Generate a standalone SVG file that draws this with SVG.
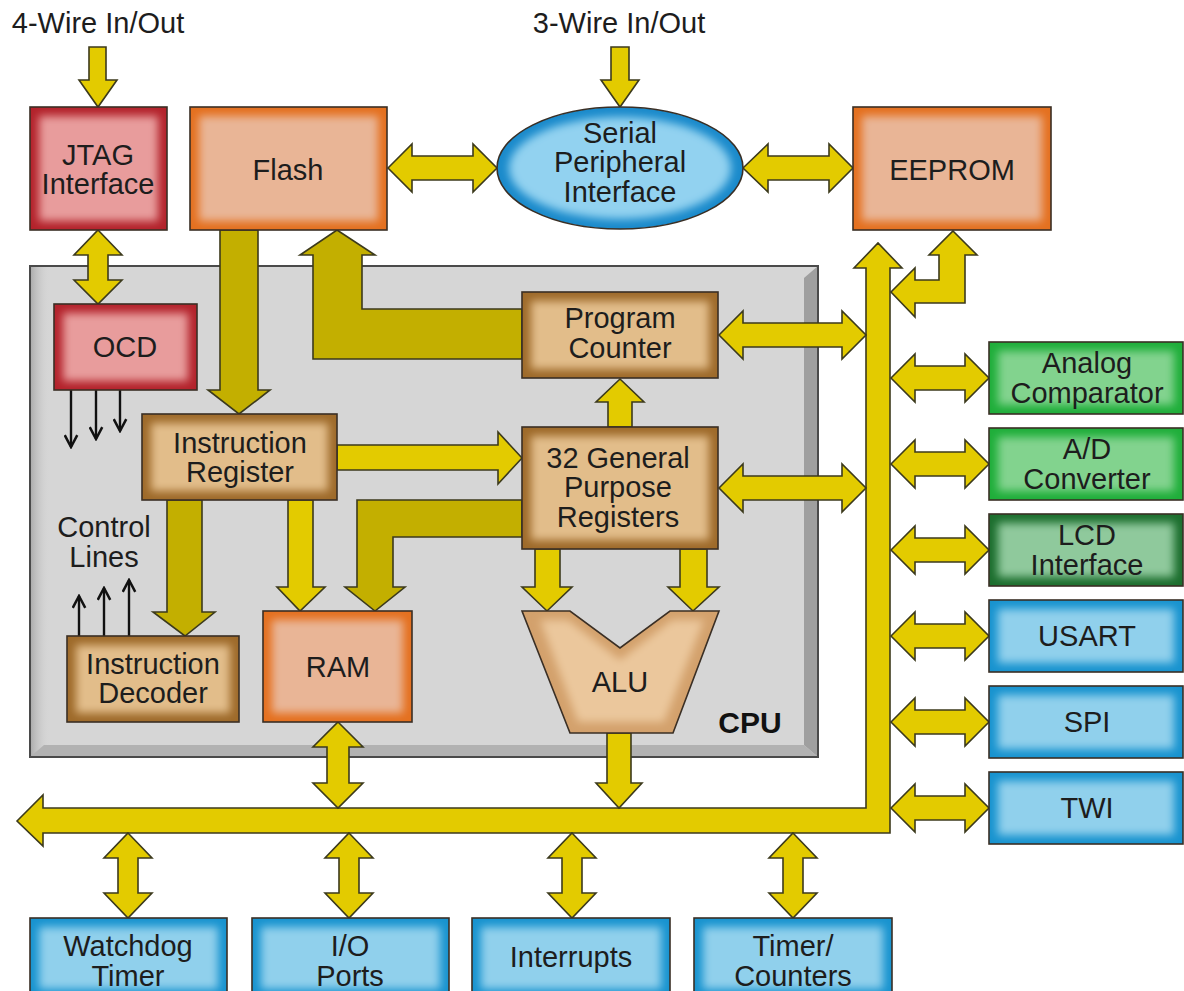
<svg xmlns="http://www.w3.org/2000/svg" width="1184" height="991" viewBox="0 0 1184 991">
<defs>
<style>
.t{font-family:"Liberation Sans",Arial,Helvetica,sans-serif;font-size:29px;fill:#1d1d1d;text-anchor:middle}
.b{font-weight:bold;font-size:30px;fill:#111}
.y{fill:#E3CB00;stroke:#3c3a1c;stroke-width:1.6;stroke-linejoin:miter}
.yd{fill:#C3AF00;stroke:#3c3a1c;stroke-width:1.6;stroke-linejoin:miter}
.bd{fill:none;stroke:#3a2f25;stroke-width:1.6}
.ln{fill:none;stroke:#111;stroke-width:2.4}
.redE{fill:#B3222B}.redC{fill:#E89C9C}
.orE{fill:#E4701F}.orC{fill:#E9B596}
.brE{fill:#9E6A2A}.brC{fill:#E2BD8A}
.blE{fill:#1893CF}.blC{fill:#90D0EC}
.grE{fill:#1FAE3A}.grC{fill:#82D38E}
.dgE{fill:#1C6E2E}.dgC{fill:#8FC99C}
</style>
<filter id="soft" x="-20%" y="-20%" width="140%" height="140%"><feGaussianBlur stdDeviation="4.5"/></filter>
<linearGradient id="cpuL" x1="0" y1="0" x2="1" y2="0"><stop offset="0" stop-color="#A9A9A9"/><stop offset="1" stop-color="#D6D6D6" stop-opacity="0"/></linearGradient>
<marker id="ah" viewBox="0 0 12 12" refX="10.5" refY="6" markerWidth="15" markerHeight="15" markerUnits="userSpaceOnUse" orient="auto"><path d="M1,1 L10.5,6 L1,11" fill="none" stroke="#111" stroke-width="2"/></marker>
</defs>
<rect width="1184" height="991" fill="#ffffff"/>

<!-- CPU container -->
<g id="cpu">
<rect x="30" y="266" width="788" height="491" fill="#D6D6D6"/>
<rect x="30" y="266" width="20" height="491" fill="url(#cpuL)"/>
<polygon points="804,278 818,266 818,757 804,745" fill="#9F9F9F"/>
<polygon points="30,757 818,757 804,745 44,745" fill="#B2B2B2"/>
<rect x="30" y="266" width="788" height="491" fill="none" stroke="#4a4a4a" stroke-width="2"/>
<text class="t b" x="750" y="733">CPU</text>
</g>

<!-- connectors -->
<g id="connectors">
<polygon class="y" points="89,47 106,47 106,80 117,80 98,107 79,80 89,80"/>
<polygon class="y" points="611,47 629,47 629,80 639,80 620,107 601,80 611,80"/>
<polygon class="y" points="98,230 122,255 108,255 108,280 122,280 98,304 74,280 88,280 88,255 74,255"/>
<polygon class="y" points="388,168 412,144 412,156 473,156 473,144 497,168 473,192 473,180 412,180 412,192"/>
<polygon class="y" points="743,168 768,144 768,156 829,156 829,144 853,168 829,192 829,180 768,180 768,192"/>
<polygon class="yd" points="220,230 258,230 258,390 270,390 239,414 208,390 220,390"/>
<polygon class="yd" points="522,309 362,309 362,255 375,255 337,230 300,255 313,255 313,359 522,359"/>
<polygon class="y" points="17,821 43,795 43,808 866,808 866,268 854,268 878,243 902,268 890,268 890,833 43,833 43,846"/>
<polygon class="y" points="953,231 977,255 965,255 965,303 915,303 915,317 891,292 915,268 915,280 939,280 939,255 929,255"/>
<polygon class="y" points="719,335 743,311 743,323 842,323 842,311 866,335 842,359 842,347 743,347 743,359"/>
<polygon class="y" points="719,488 743,464 743,476 842,476 842,464 866,488 842,512 842,500 743,500 743,512"/>
<polygon class="y" points="891,378 915,354 915,366 965,366 965,354 989,378 965,402 965,390 915,390 915,402"/>
<polygon class="y" points="891,464 915,440 915,452 965,452 965,440 989,464 965,488 965,476 915,476 915,488"/>
<polygon class="y" points="891,550 915,526 915,538 965,538 965,526 989,550 965,574 965,562 915,562 915,574"/>
<polygon class="y" points="891,636 915,612 915,624 965,624 965,612 989,636 965,660 965,648 915,648 915,660"/>
<polygon class="y" points="891,722 915,698 915,710 965,710 965,698 989,722 965,746 965,734 915,734 915,746"/>
<polygon class="y" points="891,808 915,784 915,796 965,796 965,784 989,808 965,832 965,820 915,820 915,832"/>
<polygon class="y" points="337,445 498,445 498,432 522,458 498,484 498,470 337,470"/>
<polygon class="yd" points="522,500 357,500 357,587 345,587 375,611 405,587 393,587 393,537 522,537"/>
<polygon class="y" points="288,500 313,500 313,587 325,587 300,611 277,587 288,587"/>
<polygon class="yd" points="167,500 202,500 202,612 215,612 185,636 153,612 167,612"/>
<polygon class="y" points="608,427 632,427 632,402 644,402 620,379 596,402 608,402"/>
<polygon class="y" points="535,549 560,549 560,587 572,587 547,611 522,587 535,587"/>
<polygon class="y" points="680,549 707,549 707,587 719,587 693,611 668,587 680,587"/>
<polygon class="y" points="607,733 631,733 631,783 642,783 619,808 596,783 607,783"/>
<polygon class="y" points="338,722 363,747 349,747 349,783 363,783 338,808 313,783 327,783 327,747 313,747"/>
<polygon class="y" points="128,833 152,858 138,858 138,893 152,893 128,918 104,893 118,893 118,858 104,858"/>
<polygon class="y" points="349,833 373,858 359,858 359,893 373,893 349,918 325,893 339,893 339,858 325,858"/>
<polygon class="y" points="572,833 596,858 582,858 582,893 596,893 572,918 548,893 562,893 562,858 548,858"/>
<polygon class="y" points="793,833 817,858 803,858 803,893 817,893 793,918 769,893 783,893 783,858 769,858"/>
<line class="ln" x1="71" y1="390" x2="71" y2="447" marker-end="url(#ah)"/>
<line class="ln" x1="96" y1="390" x2="96" y2="439" marker-end="url(#ah)"/>
<line class="ln" x1="120" y1="390" x2="120" y2="431" marker-end="url(#ah)"/>
<line class="ln" x1="79" y1="636" x2="79" y2="596" marker-end="url(#ah)"/>
<line class="ln" x1="104" y1="636" x2="104" y2="588" marker-end="url(#ah)"/>
<line class="ln" x1="129" y1="636" x2="129" y2="580" marker-end="url(#ah)"/>
</g>

<!-- labels -->
<g id="label-4wire"><text class="t" x="98" y="33">4-Wire In/Out</text></g>
<g id="label-3wire"><text class="t" x="619" y="33">3-Wire In/Out</text></g>
<g id="label-control"><text class="t" x="104" y="537">Control</text><text class="t" x="104" y="567">Lines</text></g>

<!-- nodes -->
<g id="jtag">
<rect class="redE" x="30" y="107" width="137" height="123"/>
<rect class="redC" x="39" y="116" width="119" height="105" filter="url(#soft)"/>
<rect class="bd" x="30" y="107" width="137" height="123"/>
<text class="t" x="98" y="165">JTAG</text><text class="t" x="98" y="194">Interface</text>
</g>
<g id="flash">
<rect class="orE" x="190" y="107" width="197" height="123"/>
<rect class="orC" x="199" y="116" width="179" height="105" filter="url(#soft)"/>
<rect class="bd" x="190" y="107" width="197" height="123"/>
<text class="t" x="288" y="180">Flash</text>
</g>
<g id="spi-serial">
<ellipse cx="620" cy="168" rx="123" ry="61" fill="#1A8ACB"/>
<ellipse cx="620" cy="168" rx="111" ry="51" fill="#92D2F0" filter="url(#soft)"/>
<ellipse cx="620" cy="168" rx="123" ry="61" class="bd"/>
<text class="t" x="620" y="143">Serial</text><text class="t" x="620" y="172">Peripheral</text><text class="t" x="620" y="202">Interface</text>
</g>
<g id="eeprom">
<rect class="orE" x="853" y="107" width="198" height="123"/>
<rect class="orC" x="862" y="116" width="180" height="105" filter="url(#soft)"/>
<rect class="bd" x="853" y="107" width="198" height="123"/>
<text class="t" x="952" y="180">EEPROM</text>
</g>
<g id="ocd">
<rect class="redE" x="54" y="304" width="143" height="86"/>
<rect class="redC" x="63" y="313" width="125" height="68" filter="url(#soft)"/>
<rect class="bd" x="54" y="304" width="143" height="86"/>
<text class="t" x="125" y="357">OCD</text>
</g>
<g id="program-counter">
<rect class="brE" x="522" y="292" width="196" height="86"/>
<rect class="brC" x="531" y="301" width="178" height="68" filter="url(#soft)"/>
<rect class="bd" x="522" y="292" width="196" height="86"/>
<text class="t" x="620" y="328">Program</text><text class="t" x="620" y="358">Counter</text>
</g>
<g id="instruction-register">
<rect class="brE" x="142" y="414" width="195" height="86"/>
<rect class="brC" x="151" y="423" width="177" height="68" filter="url(#soft)"/>
<rect class="bd" x="142" y="414" width="195" height="86"/>
<text class="t" x="240" y="453">Instruction</text><text class="t" x="240" y="482">Register</text>
</g>
<g id="gpr">
<rect class="brE" x="522" y="427" width="196" height="122"/>
<rect class="brC" x="531" y="436" width="178" height="104" filter="url(#soft)"/>
<rect class="bd" x="522" y="427" width="196" height="122"/>
<text class="t" x="618" y="468">32 General</text><text class="t" x="618" y="497">Purpose</text><text class="t" x="618" y="527">Registers</text>
</g>
<g id="instruction-decoder">
<rect class="brE" x="67" y="636" width="172" height="86"/>
<rect class="brC" x="76" y="645" width="154" height="68" filter="url(#soft)"/>
<rect class="bd" x="67" y="636" width="172" height="86"/>
<text class="t" x="153" y="674">Instruction</text><text class="t" x="153" y="703">Decoder</text>
</g>
<g id="ram">
<rect class="orE" x="263" y="611" width="149" height="111"/>
<rect class="orC" x="272" y="620" width="131" height="93" filter="url(#soft)"/>
<rect class="bd" x="263" y="611" width="149" height="111"/>
<text class="t" x="338" y="677">RAM</text>
</g>
<g id="alu">
<polygon points="522,611 570,611 620,648 670,611 719,611 673,733 570,733" fill="#D3A16C"/>
<polygon points="540,620 568,620 620,660 672,620 704,620 664,722 578,722" fill="#EBC79C" filter="url(#soft)"/>
<polygon points="522,611 570,611 620,648 670,611 719,611 673,733 570,733" class="bd"/>
<text class="t" x="620" y="692">ALU</text>
</g>
<g id="analog-comparator">
<rect class="grE" x="989" y="342" width="194" height="72"/>
<rect class="grC" x="998" y="351" width="176" height="54" filter="url(#soft)"/>
<rect class="bd" x="989" y="342" width="194" height="72"/>
<text class="t" x="1087" y="373">Analog</text><text class="t" x="1087" y="403">Comparator</text>
</g>
<g id="ad-converter">
<rect class="grE" x="989" y="428" width="194" height="72"/>
<rect class="grC" x="998" y="437" width="176" height="54" filter="url(#soft)"/>
<rect class="bd" x="989" y="428" width="194" height="72"/>
<text class="t" x="1087" y="459">A/D</text><text class="t" x="1087" y="489">Converter</text>
</g>
<g id="lcd-interface">
<rect class="dgE" x="989" y="514" width="194" height="72"/>
<rect class="dgC" x="998" y="523" width="176" height="54" filter="url(#soft)"/>
<rect class="bd" x="989" y="514" width="194" height="72"/>
<text class="t" x="1087" y="545">LCD</text><text class="t" x="1087" y="575">Interface</text>
</g>
<g id="usart">
<rect class="blE" x="989" y="600" width="194" height="72"/>
<rect class="blC" x="998" y="609" width="176" height="54" filter="url(#soft)"/>
<rect class="bd" x="989" y="600" width="194" height="72"/>
<text class="t" x="1087" y="646">USART</text>
</g>
<g id="spi">
<rect class="blE" x="989" y="686" width="194" height="72"/>
<rect class="blC" x="998" y="695" width="176" height="54" filter="url(#soft)"/>
<rect class="bd" x="989" y="686" width="194" height="72"/>
<text class="t" x="1087" y="732">SPI</text>
</g>
<g id="twi">
<rect class="blE" x="989" y="772" width="194" height="72"/>
<rect class="blC" x="998" y="781" width="176" height="54" filter="url(#soft)"/>
<rect class="bd" x="989" y="772" width="194" height="72"/>
<text class="t" x="1087" y="818">TWI</text>
</g>
<g id="watchdog-timer">
<rect class="blE" x="30" y="918" width="197" height="80"/>
<rect class="blC" x="39" y="927" width="179" height="62" filter="url(#soft)"/>
<rect class="bd" x="30" y="918" width="197" height="80"/>
<text class="t" x="128" y="956">Watchdog</text><text class="t" x="128" y="986">Timer</text>
</g>
<g id="io-ports">
<rect class="blE" x="252" y="918" width="197" height="80"/>
<rect class="blC" x="261" y="927" width="179" height="62" filter="url(#soft)"/>
<rect class="bd" x="252" y="918" width="197" height="80"/>
<text class="t" x="350" y="956">I/O</text><text class="t" x="350" y="986">Ports</text>
</g>
<g id="interrupts">
<rect class="blE" x="472" y="918" width="198" height="80"/>
<rect class="blC" x="481" y="927" width="180" height="62" filter="url(#soft)"/>
<rect class="bd" x="472" y="918" width="198" height="80"/>
<text class="t" x="571" y="967">Interrupts</text>
</g>
<g id="timer-counters">
<rect class="blE" x="694" y="918" width="198" height="80"/>
<rect class="blC" x="703" y="927" width="180" height="62" filter="url(#soft)"/>
<rect class="bd" x="694" y="918" width="198" height="80"/>
<text class="t" x="793" y="956">Timer/</text><text class="t" x="793" y="986">Counters</text>
</g>
</svg>
